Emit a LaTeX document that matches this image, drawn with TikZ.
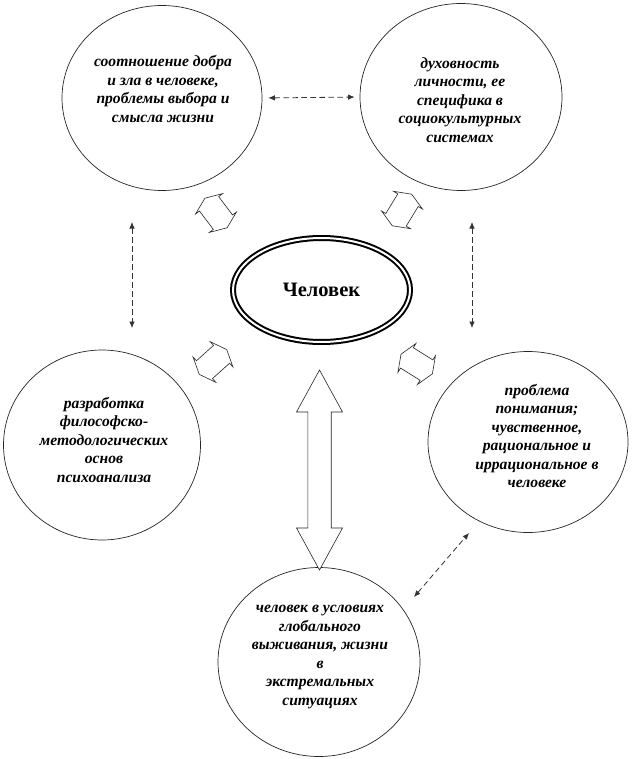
\documentclass[tikz,border=0pt]{standalone}
\usepackage{fontspec}
\setmainfont{Liberation Serif}
\usetikzlibrary{arrows.meta,shapes.geometric}
\newcommand{\dblarr}[8]{%
\begin{scope}[shift={(#1,#2)},rotate=#3]
\draw[fatarrow] (-#4,0) -- (-#4+#5,#6) -- (-#4+#5,#7) -- (#4-#5,#7) -- (#4-#5,#6) -- (#4,0)
  -- (#4-#5,-#6) -- (#4-#5,-#7) -- (-#4+#5,-#7) -- (-#4+#5,-#6) -- cycle;
\end{scope}}
\begin{document}
\begin{tikzpicture}[x=1pt,y=-1pt,
  topic/.style={ellipse,draw=black!85,line width=0.7pt,inner sep=0pt},
  txt/.style={align=center,font=\fontsize{15.6}{18.5}\selectfont\bfseries\itshape,inner sep=0pt},
  dasharrow/.style={draw=black!80,line width=0.8pt,dash pattern=on 5.5pt off 3.5pt,{Latex[length=6.5pt,width=5.5pt]}-{Latex[length=6.5pt,width=5.5pt]}},
  fatarrow/.style={draw=black!85,line width=0.6pt,fill=white,line join=miter}]
\useasboundingbox (0,0) rectangle (631,759);
\fill[white] (0,0) rectangle (631,759);

% topic circles
\node[topic,minimum width=200pt,minimum height=185pt] (tl) at (162,98) {};
\node[topic,minimum width=202pt,minimum height=187pt] (tr) at (461,97) {};
\node[topic,minimum width=197pt,minimum height=190pt] (lf) at (102,445) {};
\node[topic,minimum width=200pt,minimum height=181pt] (rt) at (528,442) {};
\node[topic,minimum width=202pt,minimum height=189pt] (bt) at (319,662) {};

% texts
\node[txt] (tlt) at (163,89) {соотношение добра\\ и зла в человеке,\\ проблемы выбора и\\ смысла жизни};
\node[txt] (trt) at (460,100) {духовность\\ личности, ее\\ специфика в\\ социокультурных\\ системах};
\node[txt] (lft) at (104,440) {разработка\\ философско-\\ методологических\\ основ\\ психоанализа};
\node[txt] (rtt) at (537,436) {проблема\\ понимания;\\ чувственное,\\ рациональное и\\ иррациональное в\\ человеке};
\node[txt] (btt) at (320,657) {человек в условиях\\ глобального\\ выживания, жизни\\ в\\ экстремальных\\ ситуациях};

% centre
\node[ellipse,draw=black,line width=2pt,double=white,double distance=2pt,
  minimum width=177pt,minimum height=104pt,inner sep=0pt,
  font=\fontsize{20.5}{24}\selectfont\bfseries] (man) at (321.5,290) {Человек};

% dashed connectors
\draw[dasharrow,shorten <=6pt,shorten >=5pt] (tl.east) -- (tr.west);
\coordinate (lvA) at (132,222); \coordinate (lvB) at (132,328);
\coordinate (rvA) at (472,222); \coordinate (rvB) at (472,328);
\coordinate (dgA) at (414,597); \coordinate (dgB) at (469,533);
\draw[dasharrow] (lvA) -- (lvB);
\draw[dasharrow] (rvA) -- (rvB);
\draw[dasharrow] (dgA) -- (dgB);

% block double arrows
\dblarr{319.5}{470}{90}{100}{42}{23}{11.7}{}
\dblarr{216}{213}{-53}{18.5}{7}{17}{12}{}
\dblarr{402}{210}{58.5}{18.5}{7}{17}{12}{}
\dblarr{213}{362}{42}{18.5}{7}{17}{12}{}
\dblarr{416.7}{364}{-32}{18.5}{7}{17}{12}{}
\end{tikzpicture}
\end{document}
